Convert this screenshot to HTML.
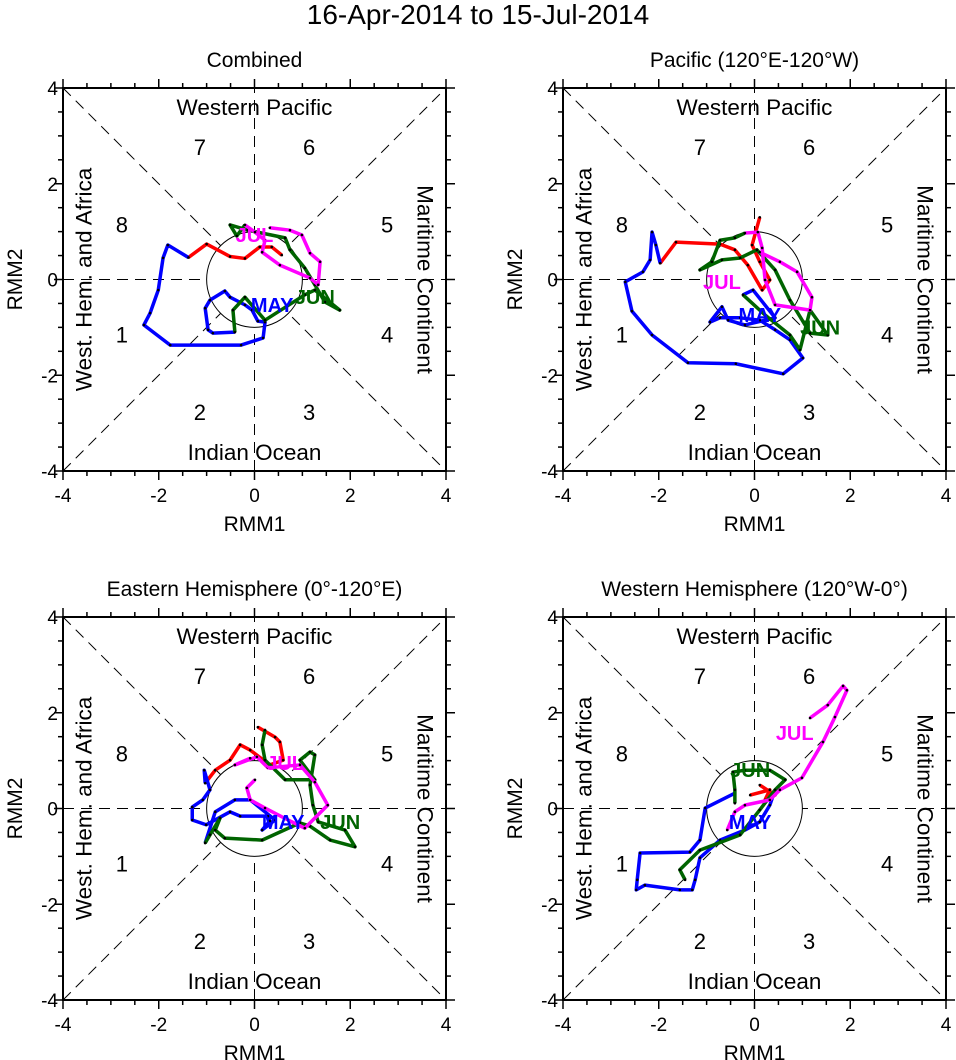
<!DOCTYPE html>
<html><head><meta charset="utf-8"><style>
body{margin:0;background:#fff;}
svg{display:block;font-family:"Liberation Sans",sans-serif;}
</style></head><body>
<svg id="chart" width="956" height="1060" viewBox="0 0 956 1060">
<text x="478" y="24" font-size="28" text-anchor="middle">16-Apr-2014 to 15-Jul-2014</text>
</svg>
<script>
// Panel data (RMM1, RMM2) per month segment
const panelTitles = ["Combined", "Pacific (120°E-120°W)", "Eastern Hemisphere (0°-120°E)", "Western Hemisphere (120°W-0°)"];
const monthNames = ["APR", "MAY", "JUN", "JUL"];
const monthColors = ["#ff0000", "#0000ff", "#006400", "#ff00ff"];
const tickValues = [-4, -2, 0, 2, 4];
const tickLabels = ["-4", "-2", "0", "2", "4"];

const p1Apr = [[0.57,0.51],[0.36,0.68],[0.11,0.68],[-0.2,0.44],[-0.51,0.48],[-1.0,0.74],[-1.38,0.46]];
const p1May = [[-1.38,0.46],[-1.81,0.72],[-1.91,0.45],[-2.01,-0.22],[-2.18,-0.7],[-2.31,-0.95],[-1.76,-1.37],[-0.28,-1.37],[0.18,-1.22],[0.22,-0.89],[0.07,-0.87],[-0.05,-0.64],[-0.2,-0.53],[-0.51,-0.37],[-0.62,-0.24],[-0.93,-0.43],[-1.03,-0.6],[-0.97,-1.05],[-0.87,-1.12],[-0.41,-1.1]];
const p1Jun = [[-0.41,-1.1],[-0.45,-0.64],[-0.2,-0.37],[0.22,-0.85],[1.05,-0.32],[1.26,-0.22],[1.78,-0.64],[1.47,-0.47],[1.26,-0.11],[1.05,0.24],[0.74,0.62],[0.64,0.87],[-0.14,1.03],[-0.51,1.14],[-0.37,0.91],[-0.2,1.14]];
const p1Jul = [[-0.2,1.14],[0.01,0.99],[0.22,0.82],[0.16,0.57],[0.53,0.3],[1.16,0.03],[1.33,-0.11],[1.37,0.37],[1.16,0.55],[0.99,0.93],[0.74,1.03],[0.32,1.08]];

const p2Apr = [[0.11,1.3],[-0.05,0.72],[0.11,0.37],[0.32,-0.01],[0.16,-0.22],[-0.14,0.3],[-0.41,0.62],[-0.72,0.74],[-1.64,0.78],[-1.97,0.34]];
const p2May = [[-1.97,0.34],[-2.06,0.72],[-2.14,0.99],[-2.18,0.41],[-2.33,0.16],[-2.7,-0.05],[-2.56,-0.66],[-2.14,-1.16],[-1.39,-1.74],[-0.39,-1.76],[0.6,-1.97],[1.01,-1.64],[0.74,-1.26],[0.43,-1.05],[0.11,-0.85],[-0.3,-0.8],[-0.72,-0.8],[-0.93,-0.89],[-0.68,-0.57],[-0.55,-0.85],[-0.2,-0.95],[0.43,-0.8],[-0.03,-0.22],[-0.24,-0.32]];
const p2Jun = [[-0.24,-0.32],[0.22,-0.74],[0.74,-1.16],[0.95,-1.47],[1.16,-0.64],[1.53,-1.16],[1.16,-1.12],[0.74,-0.43],[0.43,0.2],[0.05,0.62],[-0.3,0.45],[-0.68,0.41],[-1.14,0.2],[-0.89,0.37],[-0.72,0.82],[-0.41,0.87],[-0.2,0.97]];
const p2Jul = [[-0.2,0.97],[0.07,0.99],[0.16,0.66],[0.22,-0.01],[0.43,-0.53],[1.16,-0.64],[1.2,-0.37],[0.89,0.16],[0.53,0.37],[0.11,0.57]];

const p3Apr = [[0.07,1.7],[0.43,1.49],[0.53,1.39],[0.6,1.01],[0.32,0.91],[-0.09,1.22],[-0.3,1.33],[-0.51,1.01],[-0.82,0.8],[-1.03,0.53]];
const p3May = [[-1.03,0.53],[-1.05,0.8],[-0.93,0.39],[-1.08,0.18],[-1.3,0.03],[-1.3,-0.24],[-1.01,-0.34],[-0.51,-0.07],[-0.3,-0.16],[0.28,-0.16],[0.32,-0.26],[0.16,-0.45],[0.43,-0.24],[-0.09,0.18],[-0.41,0.18],[-0.82,-0.07],[-1.03,-0.72]];
const p3Jun = [[-1.03,-0.72],[-0.93,-0.55],[-0.72,-0.2],[-0.82,-0.45],[-0.62,-0.62],[0.16,-0.66],[0.95,-0.3],[1.16,-0.37],[1.58,-0.66],[2.1,-0.8],[1.89,-0.45],[1.33,-0.28],[1.22,0.07],[1.16,0.49],[1.26,1.12],[1.16,1.18],[0.95,1.01],[1.26,0.6],[0.64,0.6],[0.22,1.01],[0.16,1.33],[0.22,1.64]];
const p3Jul = [[-0.09,1.05],[-0.41,0.91],[0.05,1.08],[0.28,0.85],[0.95,0.91],[1.26,0.55],[1.53,0.07],[1.05,-0.41],[0.7,-0.24],[0.22,0.01],[-0.09,0.18],[-0.16,0.43],[0.01,0.6]];

const p4Apr = [[-0.09,0.28],[0.32,0.39],[0.22,0.18],[0.43,0.28],[0.11,0.49]];
const p4May = [[-0.41,0.32],[-1.03,0.01],[-1.14,-0.66],[-1.35,-0.91],[-2.39,-0.93],[-2.45,-1.49],[-2.47,-1.7],[-2.29,-1.6],[-1.56,-1.7],[-1.3,-1.7],[-1.24,-1.49],[-1.14,-1.03],[-0.72,-0.66],[-0.2,-0.45],[0.11,-0.28],[0.32,0.07],[0.43,0.39]];
const p4Jun = [[-0.41,0.11],[-0.41,0.39],[-0.45,0.76],[-0.2,0.8],[0.32,0.8],[0.64,0.6],[0.43,0.39],[0.11,-0.03],[-0.3,-0.55],[-1.14,-0.87],[-1.56,-1.28],[-1.45,-1.49]];
const p4Jul = [[-0.57,-0.45],[-0.41,-0.07],[-0.2,0.07],[0.32,0.18],[0.53,0.39],[0.99,0.64],[1.43,1.39],[1.68,1.91],[1.93,2.47],[1.85,2.56],[1.53,2.16],[1.16,1.89]];

const p1Labels = [[0.37,-0.53],[1.26,-0.37],[0.0,0.93]];
const p2Labels = [[0.11,-0.74],[1.37,-1.0],[-0.68,-0.05]];
const p3Labels = [[0.6,-0.28],[1.79,-0.28],[0.64,0.95]];
const p4Labels = [[-0.09,-0.28],[-0.09,0.8],[0.84,1.58]];

const panelSeries = [[p1Apr,p1May,p1Jun,p1Jul],[p2Apr,p2May,p2Jun,p2Jul],[p3Apr,p3May,p3Jun,p3Jul],[p4Apr,p4May,p4Jun,p4Jul]];
const panelLabels = [p1Labels,p2Labels,p3Labels,p4Labels];

const NS = "http://www.w3.org/2000/svg";
const svg = document.getElementById("chart");
const origins = [[63,88],[563,88],[63,617],[563,617]];
const SIZE = 383;
function mk(tag, attrs, parent, txt){
  const e = document.createElementNS(NS, tag);
  for (const k in attrs) e.setAttribute(k, attrs[k]);
  if (txt !== undefined) e.textContent = txt;
  parent.appendChild(e);
  return e;
}
panelSeries.forEach((series, pi) => {
  const ox = origins[pi][0], oy = origins[pi][1];
  const sx = v => ox + (v + 4) / 8 * SIZE;
  const sy = v => oy + (4 - v) / 8 * SIZE;
  const g = mk("g", {}, svg);
  
  
  const t = mk("text", {x: ox + SIZE/2, y: oy - 21, "font-size": 21, "text-anchor": "middle"}, g, panelTitles[pi]);
  
  
  const dash = {stroke: "#000", "stroke-width": 1, "stroke-dasharray": "11,7", fill: "none"};
  [[-4,-4,4,4],[-4,4,4,-4],[-4,0,4,0],[0,-4,0,4]].forEach(l => {
    const ln = mk("line", Object.assign({x1: sx(l[0]), y1: sy(l[1]), x2: sx(l[2]), y2: sy(l[3])}, dash), g);
    
    
  });
  const c = mk("circle", {cx: sx(0), cy: sy(0), r: SIZE/8, fill: "#fff", stroke: "#000", "stroke-width": 1}, g);
  
  
  const fr = mk("rect", {x: ox, y: oy, width: SIZE, height: SIZE, fill: "none", stroke: "#000", "stroke-width": 2}, g);
  
  
  for (let v = -4; v <= 4.001; v += 0.5) {
    const major = Math.abs(v % 2) < 0.01;
    const L = major ? 9 : 5;
    mk("line", {x1: sx(v), y1: oy + SIZE, x2: sx(v), y2: oy + SIZE + L, stroke: "#000", "stroke-width": 1.5}, g);
    mk("line", {x1: sx(v), y1: oy, x2: sx(v), y2: oy - L, stroke: "#000", "stroke-width": 1.5}, g);
    mk("line", {x1: ox, y1: sy(v), x2: ox - L, y2: sy(v), stroke: "#000", "stroke-width": 1.5}, g);
    mk("line", {x1: ox + SIZE, y1: sy(v), x2: ox + SIZE + L, y2: sy(v), stroke: "#000", "stroke-width": 1.5}, g);
  }
  tickValues.forEach((v, i) => {
    const a = mk("text", {x: sx(v), y: oy + SIZE + 31, "font-size": 19, "text-anchor": "middle"}, g, tickLabels[i]);
    
    
    const b = mk("text", {x: ox - 5, y: sy(v) + 7, "font-size": 19, "text-anchor": "end"}, g, tickLabels[i]);
    
    
  });
  const xt = mk("text", {x: ox + SIZE/2, y: oy + SIZE + 60, "font-size": 21, "text-anchor": "middle"}, g, "RMM1");
  
  
  const yt = mk("text", {x: 0, y: 0, "font-size": 21, "text-anchor": "middle", transform: `translate(${ox-41},${oy+SIZE/2}) rotate(-90)`}, g, "RMM2");
  
  
  const r1 = mk("text", {x: sx(0), y: sy(3.44), "font-size": 22.5, "text-anchor": "middle"}, g, "Western Pacific");
  
  
  const r2 = mk("text", {x: sx(0), y: sy(-3.77), "font-size": 22.5, "text-anchor": "middle"}, g, "Indian Ocean");
  
  
  const r3 = mk("text", {x: 0, y: 0, "font-size": 22.5, "text-anchor": "middle", transform: `translate(${sx(-3.4)},${sy(0)}) rotate(-90)`}, g, "West. Hem. and Africa");
  
  
  const r4 = mk("text", {x: 0, y: 0, "font-size": 22.5, "text-anchor": "middle", transform: `translate(${sx(3.4)},${sy(0)}) rotate(90)`}, g, "Maritime Continent");
  
  
  const phasePos = [[-2.77,-1.15],[-1.14,-2.77],[1.14,-2.77],[2.77,-1.15],[2.77,1.15],[1.14,2.77],[-1.14,2.77],[-2.77,1.15]];
  phasePos.forEach((p, i) => {
    const pt = mk("text", {x: sx(p[0]), y: sy(p[1]) + 8, "font-size": 22, "text-anchor": "middle"}, g, String(i + 1));
    
    
  });
  series.forEach((pts, mi) => {
    const pl = mk("polyline", {points: pts.map(p => sx(p[0]) + "," + sy(p[1])).join(" "), fill: "none", stroke: monthColors[mi], "stroke-width": 3.5, "stroke-linejoin": "round"}, g);
    
    
    pts.forEach(p => {
      const d = mk("circle", {cx: sx(p[0]), cy: sy(p[1]), r: 1.3, fill: "#000"}, g);
      
      
    });
  });
  panelLabels[pi].forEach((p, i) => {
    const ml = mk("text", {x: sx(p[0]), y: sy(p[1]) + 7, "font-size": 20, "font-weight": "bold", fill: monthColors[i + 1], "text-anchor": "middle"}, g, monthNames[i + 1]);
    
    
  });
});
</script>
</body></html>
